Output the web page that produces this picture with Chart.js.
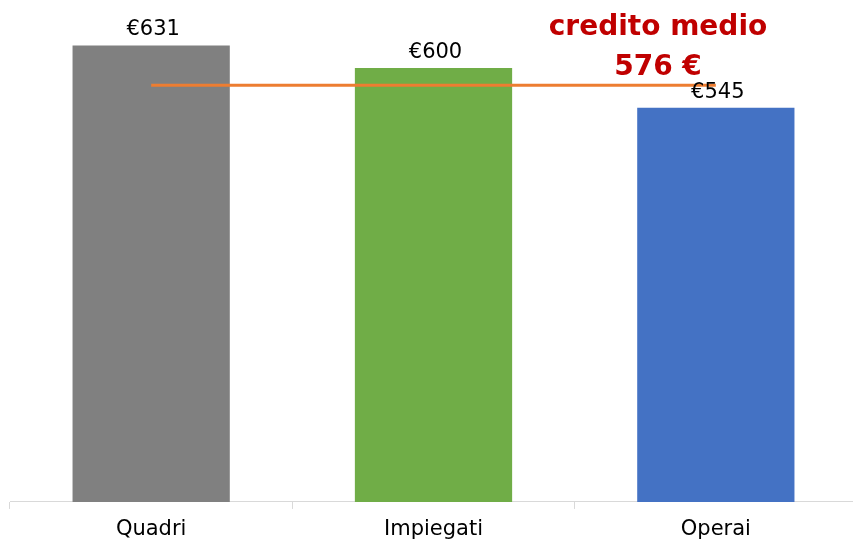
<!DOCTYPE html>
<html>
<head>
<meta charset="utf-8">
<script src="https://cdn.jsdelivr.net/npm/chart.js@4"></script>
<style>
  html, body { margin: 0; padding: 0; background: #fff; overflow: hidden; }
  #wrap { width: 853px; height: 546px; overflow: hidden; }
</style>
</head>
<body>
<div id="wrap"><canvas id="creditoChart" width="857" height="551"></canvas></div>
<script>
// dati del grafico
var categorie = ['Quadri', 'Impiegati', 'Operai'];
var credito = [631, 600, 545];
var coloriBarre = ['#808080', '#70AD47', '#4472C4'];
var creditoMedio = [576, 576, 576];
var titolo = ['credito medio', '576 €'];

var fontFamily = '"DejaVu Sans", sans-serif';

// etichette sopra le barre
var etichettePlugin = {
    id: 'etichette',
    afterDatasetsDraw: function(chart) {
        var ctx = chart.ctx;
        var meta = chart.getDatasetMeta(0);
        ctx.save();
        ctx.font = '21px ' + fontFamily;
        ctx.fillStyle = '#000';
        ctx.textAlign = 'center';
        ctx.textBaseline = 'alphabetic';
        meta.data.forEach(function(bar, i) {
            ctx.fillText('€' + credito[i], bar.x + 2, bar.y - 10);
        });
        ctx.restore();
    }
};

// testo "credito medio"
var titoloPlugin = {
    id: 'titolo',
    afterDraw: function(chart) {
        var ctx = chart.ctx;
        ctx.save();
        ctx.font = 'bold 28px ' + fontFamily;
        ctx.fillStyle = '#C00000';
        ctx.textAlign = 'center';
        ctx.textBaseline = 'alphabetic';
        ctx.fillText(titolo[0], 658, 35);
        ctx.fillText(titolo[1], 658, 75);
        ctx.restore();
    }
};

var ctx = document.getElementById('creditoChart').getContext('2d');
var chart = new Chart(ctx, {
    type: 'bar',
    data: {
        labels: categorie,
        datasets: [
            {
                label: 'Credito',
                data: credito,
                backgroundColor: coloriBarre,
                categoryPercentage: 1,
                barPercentage: 0.557,
                grouped: false,
                order: 2
            },
            {
                type: 'line',
                label: 'Credito medio',
                data: creditoMedio,
                borderColor: '#ED7D31',
                borderWidth: 3,
                pointRadius: 0,
                fill: false,
                order: 1
            }
        ]
    },
    plugins: [etichettePlugin, titoloPlugin],
    options: {
        responsive: false,
        animation: false,
        layout: { padding: { left: 10, right: 0, top: 10, bottom: 0 } },
        plugins: {
            legend: { display: false },
            tooltip: { enabled: false }
        },
        scales: {
            x: {
                grid: {
                    offset: true,
                    drawOnChartArea: false,
                    tickLength: 7,
                    color: '#D9D9D9'
                },
                border: { color: '#D9D9D9' },
                ticks: {
                    padding: 10,
                    color: '#000',
                    font: { family: fontFamily, size: 21, lineHeight: 1.05 }
                }
            },
            y: {
                display: false,
                min: 0,
                max: 680
            }
        }
    }
});
</script>
</body>
</html>
